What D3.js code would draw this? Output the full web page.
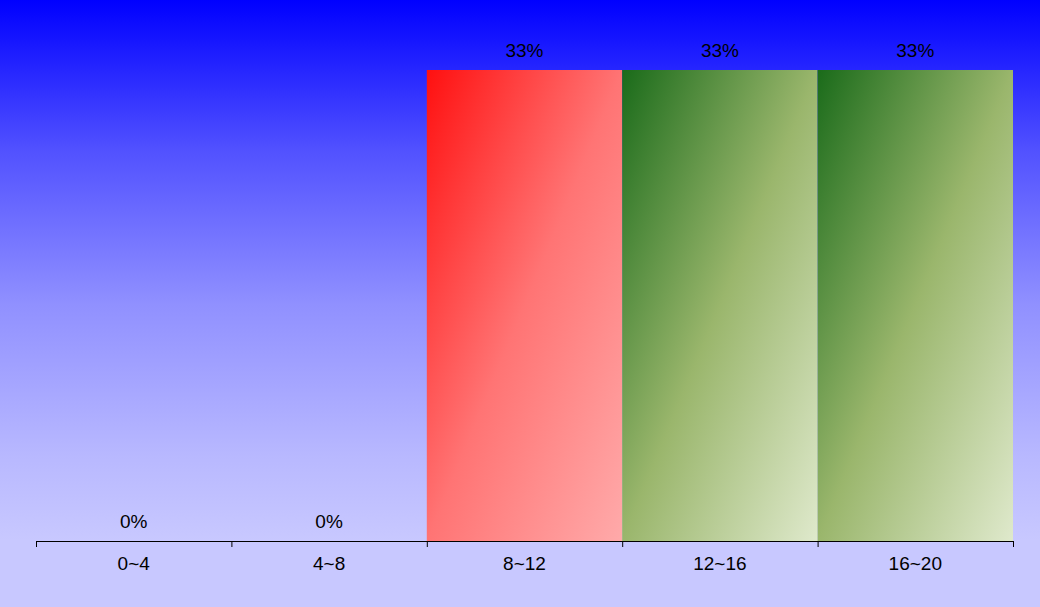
<!DOCTYPE html>
<html>
<head>
<meta charset="utf-8">
<script src="https://cdn.jsdelivr.net/npm/d3@7"></script>
<style>
  html, body { margin: 0; padding: 0; overflow: hidden; }
  svg { display: block; }
</style>
</head>
<body>
<script>
const categories = ["0~4", "4~8", "8~12", "12~16", "16~20"];
const edgeTicks = [0, 4, 8, 12, 16, 20];
const values = [0, 0, 33.33, 33.33, 33.33];
const labels = ["0%", "0%", "33%", "33%", "33%"];
const fills = ["red", "red", "red", "green", "green"];

const W = 1040, H = 607;
const margin = {left: 36, right: 27, top: 70, bottom: 66};

const svg = d3.select("body").append("svg").attr("width", W).attr("height", H);
const defs = svg.append("defs");

const bg = defs.append("linearGradient").attr("id", "bg")
  .attr("x1", 0).attr("y1", 0).attr("x2", 0).attr("y2", 1);
[["0%", "#0000ff"], ["25%", "#5252ff"], ["50%", "#9090ff"], ["75%", "#b8b8ff"], ["89%", "#c8c8ff"], ["100%", "#c8c8ff"]]
  .forEach(([o, c]) => bg.append("stop").attr("offset", o).attr("stop-color", c));

const gRed = defs.append("linearGradient").attr("id", "red")
  .attr("x1", 0).attr("y1", 0).attr("x2", 1).attr("y2", 1);
gRed.append("stop").attr("offset", "0%").attr("stop-color", "#ff1010");
gRed.append("stop").attr("offset", "50%").attr("stop-color", "#ff7474");
gRed.append("stop").attr("offset", "100%").attr("stop-color", "#ffaaaa");

const gGreen = defs.append("linearGradient").attr("id", "green")
  .attr("x1", 0).attr("y1", 0).attr("x2", 1).attr("y2", 1);
gGreen.append("stop").attr("offset", "0%").attr("stop-color", "#1a6b1a");
gGreen.append("stop").attr("offset", "50%").attr("stop-color", "#9ab66c");
gGreen.append("stop").attr("offset", "100%").attr("stop-color", "#dfe9cc");

svg.append("rect").attr("width", W).attr("height", H).attr("fill", "url(#bg)");

const x = d3.scaleBand().domain(categories).range([margin.left, W - margin.right]).padding(0);
const xEdge = d3.scaleLinear().domain([0, 20]).range([margin.left, W - margin.right]);
const y = d3.scaleLinear().domain([0, d3.max(values)]).range([H - margin.bottom, margin.top]);

svg.append("g").selectAll("rect").data(values).join("rect")
  .attr("x", (d, i) => x(categories[i]))
  .attr("width", x.bandwidth())
  .attr("y", d => y(d))
  .attr("height", d => y(0) - y(d))
  .attr("fill", (d, i) => `url(#${fills[i]})`);

svg.append("g").selectAll("text").data(values).join("text")
  .attr("x", (d, i) => x(categories[i]) + x.bandwidth() / 2)
  .attr("y", d => y(d) - 13)
  .attr("text-anchor", "middle")
  .attr("font-family", "Liberation Sans, Arial, sans-serif")
  .attr("font-size", 19)
  .attr("fill", "#000")
  .text((d, i) => labels[i]);

const axisG = svg.append("g").attr("transform", `translate(0,${y(0)})`)
  .call(d3.axisBottom(xEdge).tickValues(edgeTicks).tickFormat("").tickSize(6).tickSizeOuter(6));
axisG.selectAll("path, line").attr("stroke", "#000");

const lblAxis = svg.append("g").attr("transform", `translate(0,${y(0)})`)
  .call(d3.axisBottom(x).tickSize(0).tickPadding(16));
lblAxis.select(".domain").remove();
lblAxis.selectAll("text")
  .attr("font-family", "Liberation Sans, Arial, sans-serif")
  .attr("font-size", 19)
  .attr("fill", "#000");
</script>
</body>
</html>
